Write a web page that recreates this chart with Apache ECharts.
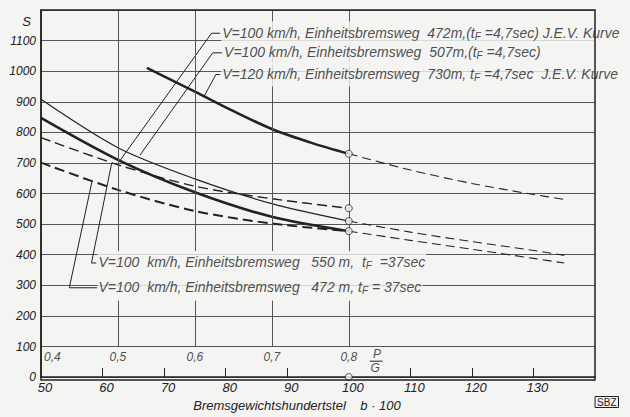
<!DOCTYPE html>
<html><head><meta charset="utf-8">
<script src="https://cdn.jsdelivr.net/npm/echarts@6/dist/echarts.min.js"></script>
<style>html,body{margin:0;padding:0;background:#f4f4f2}#c{width:630px;height:417px}</style>
</head><body><div id="c"></div>
<script>
// ---- data ----
const xLabelValues = [50, 60, 70, 80, 90, 100, 110, 120, 130];
const xTickValues = [60, 70, 80, 90, 110, 120, 130];
const pgValues = [0.4, 0.5, 0.6, 0.7, 0.8];
const vGridX = [62.5, 75, 87.5, 100];
const vGridSpans = [[100, 250], [410, 1200]];

const v120Solid = [[67.2, 1011], [75, 933], [81.2, 870], [87.5, 811], [94.2, 764], [100, 730]];
const v120Dash  = [[100, 730], [110, 677], [120, 633], [130, 597], [135, 581]];
const v507Solid = [[50, 908], [62.5, 750], [75, 648], [87.5, 567], [100, 510]];
const v507Dash  = [[100, 510], [110, 474], [120, 443], [130, 414], [135, 398]];
const v472Solid = [[50, 847], [62.5, 710], [75, 604], [87.5, 524], [100, 477]];
const v472Dash  = [[100, 477], [110, 447], [120, 418], [130, 388], [135, 373]];
const v550t37   = [[50, 783], [62.5, 694], [75, 624], [87.5, 583], [100, 552]];
const v472t37   = [[50, 701], [62.5, 612], [75, 543], [87.5, 502], [100, 477]];
const endCircles = [[100, 730], [100, 552], [100, 510], [100, 477], [100, 0]];

const leaders = [
  [[79.1, 1124], [77.7, 1124], [62.8, 707]],
  [[79.4, 1060], [77.9, 1060], [66.1, 726]],
  [[79.1, 989], [78.4, 989], [76.4, 914]],
  [[61.5, 701], [58.2, 373], [59.0, 373]],
  [[58.3, 641], [54.6, 292], [59.1, 292]],
  [[103.4, 52], [105.5, 52]]            // fraction bar of P/G
];
const annotations = [
  { at: [79.2, 1124], text: 'V=100 km/h, Einheitsbremsweg  472m,(t{s|F} =4,7sec) J.E.V. Kurve' },
  { at: [79.5, 1060], text: 'V=100 km/h, Einheitsbremsweg  507m,(t{s|F} =4,7sec)' },
  { at: [79.2, 989],  text: 'V=120 km/h, Einheitsbremsweg  730m, t{s|F} =4,7sec  J.E.V. Kurve' },
  { at: [59.1, 373],  text: 'V=100  km/h, Einheitsbremsweg   550 m,  t{s|F}  =37sec' },
  { at: [59.1, 293],  text: 'V=100  km/h, Einheitsbremsweg   472 m, t{s|F} = 37sec' }
];
const fraction = [
  { at: [104.6, 76], text: 'P' },
  { at: [104.3, 31], text: 'G' }
];
const xTitle = 'Bremsgewichtshundertstel    b · 100';

// ---- chart ----
const FONT = '"Liberation Sans", "DejaVu Sans", sans-serif';
const ITAL = 'italic';
const INK = '#222';
const GRIDC = '#555';
const BG = '#f4f4f2';
const chart = echarts.init(document.getElementById('c'), null, { renderer: 'svg' });

function line(data, width, dash) {
  return {
    type: 'line', data: data, smooth: 0.3, symbol: 'none', z: 3,
    lineStyle: { color: INK, width: width, type: dash ? dash : 'solid' }
  };
}
const series = [
  line(v120Solid, 2.6), line(v120Dash, 1.1, [9, 5]),
  line(v507Solid, 1.2), line(v507Dash, 1.1, [9, 5]),
  line(v472Solid, 2.6), line(v472Dash, 1.1, [9, 5]),
  line(v550t37, 1.4, [10, 5]), line(v472t37, 2, [10, 5])
];
series[0].markLine = {
  silent: true, symbol: ['none', 'none'], animation: false,
  lineStyle: { color: GRIDC, width: 1, type: 'solid' }, label: { show: false },
  data: vGridX.flatMap(x => vGridSpans.map(s => [{ coord: [x, s[0]] }, { coord: [x, s[1]] }]))
};
leaders.forEach(l => series.push({
  type: 'line', data: l, symbol: 'none', z: 3, lineStyle: { color: INK, width: 1 }
}));
series.push({
  type: 'scatter', data: endCircles, symbol: 'circle', symbolSize: 7, clip: false, z: 6,
  itemStyle: { color: BG, borderColor: INK, borderWidth: 1 }
});
series.push({
  type: 'scatter', z: 5, symbolSize: 1, itemStyle: { color: 'transparent' },
  data: annotations.map(a => ({ value: a.at, name: a.text })),
  label: {
    show: true, position: 'right', distance: 0, formatter: p => p.name,
    fontFamily: FONT, fontStyle: ITAL, fontSize: 14, color: INK,
    backgroundColor: BG, padding: [3, 1, 4, 1],
    rich: { s: { fontFamily: FONT, fontStyle: ITAL, fontSize: 10, color: INK, padding: [7, 0, 0, 0] } }
  }
});
series.push({
  type: 'scatter', z: 5, symbolSize: 1, itemStyle: { color: 'transparent' },
  data: pgValues.map((v, i) => ({
    value: [v * 125, 65], name: String(v).replace('.', ','),
    label: i === 0 ? { align: 'left', offset: [3, 0] } : {}
  })).concat(fraction.map(f => ({ value: f.at, name: f.text }))),
  label: {
    show: true, position: 'inside', formatter: p => p.name,
    fontFamily: FONT, fontStyle: ITAL, fontSize: 12, color: INK
  }
});

chart.setOption({
  backgroundColor: BG,
  animation: false,
  grid: { left: 41, right: 35, top: 10, bottom: 37, show: false },
  xAxis: {
    type: 'value', min: 50, max: 140, interval: 10,
    axisLine: { show: true, lineStyle: { color: INK, width: 1.5 } },
    axisTick: { show: true, inside: true, length: 9, customValues: xTickValues, lineStyle: { color: INK, width: 1 } },
    axisLabel: { customValues: xLabelValues, fontFamily: FONT, fontStyle: ITAL, fontSize: 13, color: INK, margin: 4, padding: [0, 0, 0, 8] },
    splitLine: { show: false },
    name: xTitle, nameLocation: 'middle', nameGap: 21,
    nameTextStyle: { fontFamily: FONT, fontStyle: ITAL, fontSize: 13, color: INK, padding: [0, 42, 0, 0] }
  },
  yAxis: {
    type: 'value', min: 0, max: 1200, interval: 100,
    axisLine: { show: true, lineStyle: { color: INK, width: 1.5 } },
    axisTick: { show: false },
    axisLabel: {
      margin: 5, fontFamily: FONT, fontStyle: ITAL, fontSize: 12, color: INK,
      formatter: v => v === 1200 ? '{s|S}' : String(v),
      rich: { s: { fontFamily: FONT, fontSize: 13, color: INK, padding: [22, 5, 0, 0] } }
    },
    splitLine: { show: true, lineStyle: { color: GRIDC, width: 1 } }
  },
  graphic: [
    { type: 'rect', z: 100, silent: true, shape: { x: 41, y: 10, width: 554, height: 370 },
      style: { fill: null, stroke: INK, lineWidth: 1.5 } },
    { type: 'text', z: 100, right: 11, bottom: 9,
      style: { text: 'SBZ', fontFamily: FONT, fontSize: 10, fill: INK, borderColor: INK, borderWidth: 1, padding: [1, 2, 0, 2] } }
  ],
  series: series
});
</script></body></html>
